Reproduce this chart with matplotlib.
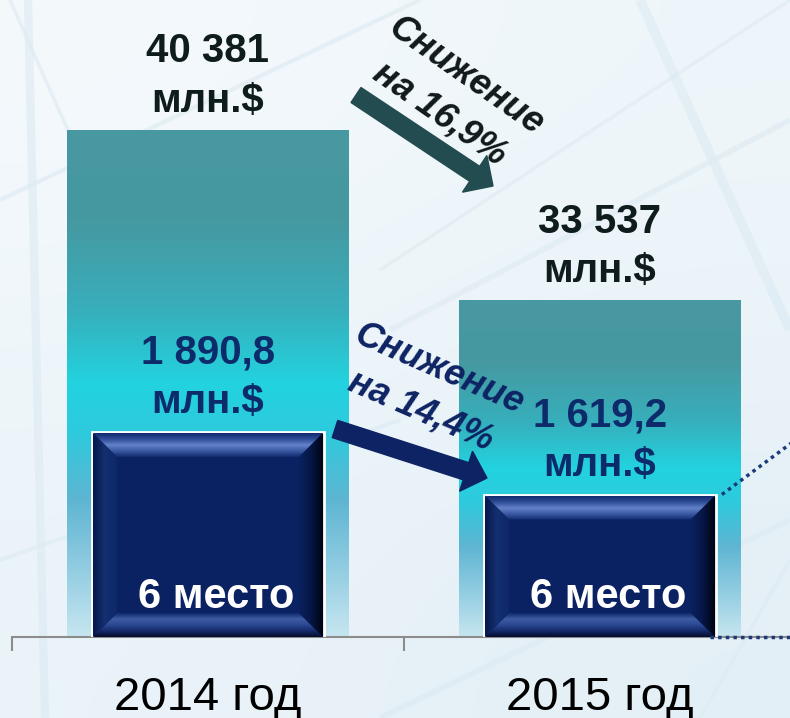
import matplotlib
matplotlib.use('Agg')
import matplotlib.pyplot as plt
import numpy as np
from matplotlib.colors import LinearSegmentedColormap
from matplotlib.patches import Polygon, FancyArrow

plt.rcParams.update({'font.family': ['Liberation Sans', 'DejaVu Sans']})

years = ['2014 год', '2015 год']
total = [40381, 33537]        # млн.$, large bars
share = [1890.8, 1619.2]      # млн.$, small bars
rank = [6, 6]
drop_total = '16,9%'
drop_share = '14,4%'

W, H = 790, 718
fig = plt.figure(figsize=(W / 100, H / 100), dpi=100)


def fmt_int(v):
    return f'{v:,.0f}'.replace(',', ' ')


def fmt_dec(v):
    return f'{v:,.1f}'.replace(',', ' ').replace('.', ',')


# background (decorative)
bg = fig.add_axes([0, 0, 1, 1], zorder=-5)
bg.imshow([[0.0, 0.3], [0.6, 1.0]], cmap=LinearSegmentedColormap.from_list('bg', ['#F4F9FC', '#E3EFF6']),
          extent=(0, W, H, 0), aspect='auto', interpolation='bicubic')
for (xa, ya, xb, yb, lw) in [(28, 0, 45, 718, 6), (0, 200, 420, 0, 3), (10, 0, 170, 360, 2.5),
                             (640, 0, 790, 330, 7), (390, 330, 790, 120, 4), (380, 270, 790, 0, 2.5),
                             (0, 560, 400, 420, 3), (380, 718, 790, 520, 4), (700, 718, 790, 560, 2.5)]:
    bg.plot([xa, xb], [ya, yb], color='#DCEAF2', lw=lw, alpha=0.6, solid_capstyle='butt')
bg.set_xlim(0, W)
bg.set_ylim(H, 0)
bg.axis('off')

ax = fig.add_axes([12 / W, 81 / H, 784 / W, 637 / H])
ax.patch.set_alpha(0)
x = np.arange(len(years))

# large bars with vertical gradient
cmap_big = LinearSegmentedColormap.from_list('big', [
    (0, '#4898A0'), (0.18, '#4699A1'), (0.36, '#37AFBC'), (0.5, '#22D3DF'),
    (0.6, '#2ECADD'), (0.73, '#5EB5D2'), (0.87, '#93CDE2'), (1.0, '#C6E6F0')])
YMIN, YMAX = 20000, 45600
bars = ax.bar(x, total, width=0.717, color='none', edgecolor='none')
for b in bars:
    x0, x1 = b.get_x(), b.get_x() + b.get_width()
    im = ax.imshow(np.linspace(0, 1, 256)[:, None], cmap=cmap_big, origin='upper',
                   extent=(x0, x1, YMIN, b.get_height()), aspect='auto', zorder=1)
    im.set_clip_path(b)
ax.set_xlim(-0.5, 1.5)
ax.set_ylim(YMIN, YMAX)

for xi, v in zip(x, total):
    ax.annotate(f'{fmt_int(v)}\nмлн.$', xy=(xi, v), xytext=(0, 10), textcoords='offset pixels',
                ha='center', va='bottom', fontsize=29, fontweight='bold', color='#0F1C1C',
                linespacing=1.38)

ax.set_xticks(x)
ax.set_xticklabels(years, fontsize=34, color='black')
ax.set_xticks([-0.5, 0.5, 1.5], minor=True)
ax.tick_params(axis='x', which='major', length=0, pad=28)
ax.tick_params(axis='x', which='minor', length=10, width=1.5, color='#8C8C8C', direction='out')
ax.set_yticks([])
for s in ['top', 'left', 'right']:
    ax.spines[s].set_visible(False)
ax.spines['bottom'].set_color('#8C8C8C')
ax.spines['bottom'].set_linewidth(1.5)

# small bars on their own scale
ax2 = ax.twinx()
ax2.patch.set_alpha(0)
Y2MIN, Y2MAX = 1000, 3768
ax2.set_ylim(Y2MIN, Y2MAX)
ax2.set_xlim(-0.5, 1.5)
ax2.set_yticks([])
for s in ax2.spines.values():
    s.set_visible(False)
sbars = ax2.bar(x, share, width=0.592, color='#0B2262', edgecolor='white', linewidth=2, zorder=2)


def grad_poly(axx, pts_px, colors, vertical=True):
    pts = axx.transData.inverted().transform(pts_px)
    poly = Polygon(pts, closed=True, facecolor='none', edgecolor='none')
    axx.add_patch(poly)
    arr = np.linspace(0, 1, 128)
    arr = arr[:, None] if vertical else arr[None, :]
    cm = LinearSegmentedColormap.from_list('g', colors)
    im = axx.imshow(arr, cmap=cm, origin='upper', aspect='auto', interpolation='bilinear',
                    extent=(pts[:, 0].min(), pts[:, 0].max(), pts[:, 1].min(), pts[:, 1].max()), zorder=3)
    im.set_clip_path(poly)


t = 24
for b in sbars:
    (X0, Y0), (X1, Y1) = ax2.transData.transform([(b.get_x(), Y2MIN),
                                                  (b.get_x() + b.get_width(), b.get_height())])
    X0 += 1; X1 -= 1; Y1 -= 1
    grad_poly(ax2, [(X0, Y1), (X1, Y1), (X1 - t, Y1 - t), (X0 + t, Y1 - t)],
              ['#102A6C', '#2E4C98', '#6583CA', '#3A58A2', '#112B6E'])
    grad_poly(ax2, [(X0, Y0), (X1, Y0), (X1 - t, Y0 + t), (X0 + t, Y0 + t)],
              ['#0F2A6C', '#3E5CA2', '#2A4790', '#14296A', '#040C2A'])
    grad_poly(ax2, [(X0, Y0), (X0, Y1), (X0 + t, Y1 - t), (X0 + t, Y0 + t)],
              ['#06184C', '#14306F', '#0E286A'], vertical=False)
    grad_poly(ax2, [(X1, Y0), (X1, Y1), (X1 - t, Y1 - t), (X1 - t, Y0 + t)],
              ['#0B2262', '#061645', '#000410'], vertical=False)
ax2.set_xlim(-0.5, 1.5)
ax2.set_ylim(Y2MIN, Y2MAX)

for xi, v in zip(x, share):
    ax2.annotate(f'{fmt_dec(v)}\nмлн.$', xy=(xi, v), xytext=(0, 11), textcoords='offset pixels',
                 ha='center', va='bottom', fontsize=29, fontweight='bold', color='#0D2A6B',
                 linespacing=1.38, zorder=5)
for xi, r in zip(x, rank):
    ax2.annotate(f'{r} место', xy=(xi, Y2MIN), xytext=(8, 29), textcoords='offset pixels',
                 ha='center', va='baseline', fontsize=30, fontweight='bold', color='white', zorder=5)

# dotted connectors on the right
ax2.plot([1.311, 1.49], [share[1], 1845], ls=(0, (1, 1.2)), lw=2.5, color='#1A3A7A', clip_on=False, zorder=4)
ax2.plot([1.28, 1.49], [Y2MIN + 2, Y2MIN + 2], ls=(0, (1, 1.2)), lw=2.5, color='#1A3A7A', clip_on=False, zorder=4)


# arrows and their captions (pixel positions of the slide)
def arrow(p0, p1, color, shaft, hw, hl):
    xa, ya = p0[0] / 100, (H - p0[1]) / 100
    xb, yb = p1[0] / 100, (H - p1[1]) / 100
    fig.add_artist(FancyArrow(xa, ya, xb - xa, yb - ya, width=shaft / 100, head_width=hw / 100,
                              head_length=hl / 100, length_includes_head=True, color=color,
                              transform=fig.dpi_scale_trans, zorder=6))


arrow((356, 95), (493, 186), '#234C50', 18, 44, 22)
arrow((335, 429), (487, 478), '#0D2363', 18, 42, 22)

fig.text(453 / W, 1 - 95 / H, f'Снижение\nна {drop_total}', rotation=-35, rotation_mode='anchor',
         ha='center', va='center', multialignment='center', fontsize=26, fontweight='bold',
         fontstyle='italic', color='#101A1A', linespacing=1.4, zorder=7)
fig.text(430 / W, 1 - 390 / H, f'Снижение\nна {drop_share}', rotation=-23.5, rotation_mode='anchor',
         ha='center', va='center', multialignment='center', fontsize=26, fontweight='bold',
         fontstyle='italic', color='#0D2363', linespacing=1.4, zorder=7)

fig.savefig('out.png', dpi=100)
